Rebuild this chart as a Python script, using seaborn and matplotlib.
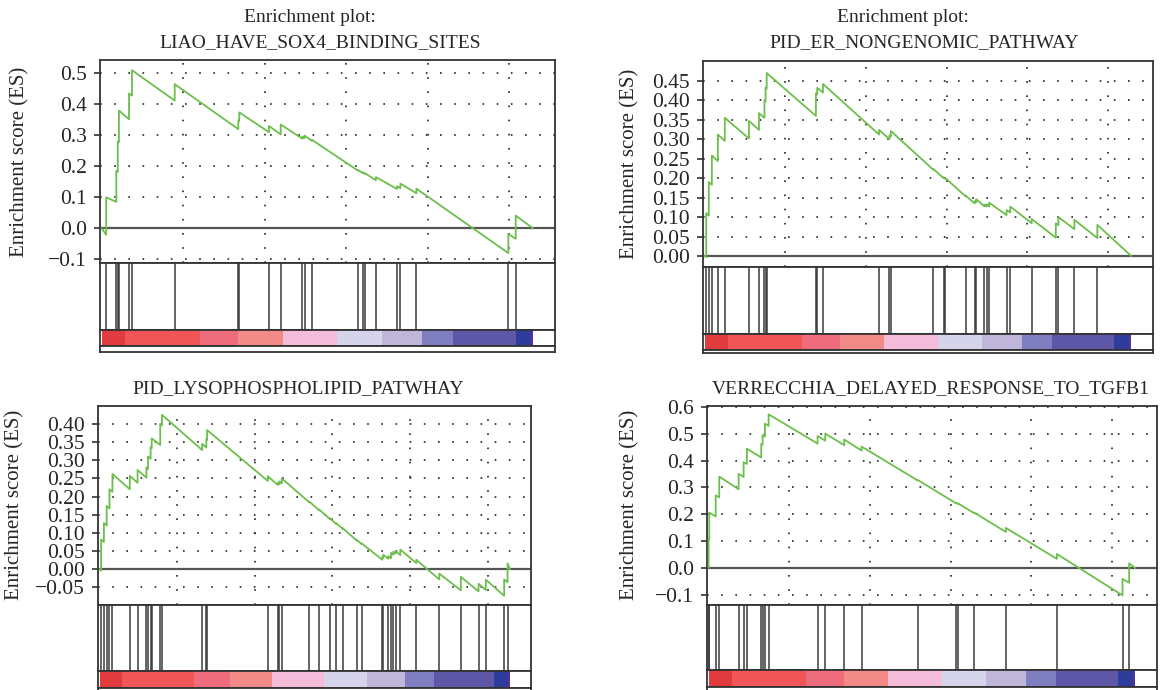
import matplotlib
matplotlib.use('Agg')
import matplotlib.pyplot as plt
from matplotlib.colors import ListedColormap
import numpy as np
import pandas as pd
import seaborn as sns

W, H = 1162, 690

# ranked gene list shared by all four panels
n_genes = 26450
x_lim = (-100, 27800)
x_grid = [5000, 10000, 15000, 20000, 25000]

# heat bar under the hits (fraction of the ranked list)
band_edges = [0, 0.054, 0.229, 0.317, 0.420, 0.546, 0.651, 0.743, 0.814, 0.960, 0.995, 1.0]
band_colors = ['#e23b3e', '#f05658', '#ee6c7c', '#f28a88', '#f4bcd8', '#d6d4ea',
               '#c0b6da', '#7e7ec0', '#5e56a6', '#2e3c9c', '#55309e']

# panel 1
p1_title = ['Enrichment plot:', 'LIAO_HAVE_SOX4_BINDING_SITES']
p1_rank = [280, 900, 990, 1060, 1680, 1860, 4480, 8380, 8440, 10260, 10980, 12310,
           12440, 12880, 15720, 16010, 16170, 16820, 18110, 18320, 19300, 24940, 25390]
p1_before = [-0.021, 0.085, 0.182, 0.278, 0.352, 0.428, 0.412, 0.320, 0.346, 0.310, 0.303,
             0.289, 0.291, 0.283, 0.186, 0.178, 0.175, 0.155, 0.127, 0.129, 0.113, -0.080, -0.034]
p1_after = [0.100, 0.185, 0.280, 0.380, 0.435, 0.510, 0.465, 0.348, 0.374, 0.330, 0.335,
            0.296, 0.299, 0.286, 0.188, 0.181, 0.177, 0.165, 0.136, 0.144, 0.128, -0.018, 0.041]
p1_yticks = [-0.1, 0.0, 0.1, 0.2, 0.3, 0.4, 0.5]
p1_ylim = (-0.112, 0.543)

# panel 2
p2_title = ['Enrichment plot:', 'PID_ER_NONGENOMIC_PATHWAY']
p2_rank = [100, 260, 450, 820, 1250, 2750, 3370, 3710, 3780, 3850, 6900, 6980, 7340,
           10815, 11460, 11550, 14170, 14815, 14930, 16190, 16745, 16835, 17340, 17480,
           17640, 18720, 18950, 20280, 21775, 21935, 22925, 24350]
p2_before = [-0.003, 0.104, 0.183, 0.244, 0.296, 0.302, 0.324, 0.355, 0.397, 0.430, 0.360,
             0.415, 0.420, 0.312, 0.300, 0.307, 0.222, 0.200, 0.198, 0.153, 0.135, 0.138,
             0.128, 0.127, 0.127, 0.105, 0.112, 0.084, 0.047, 0.079, 0.069, 0.046]
p2_after = [0.110, 0.190, 0.258, 0.312, 0.355, 0.347, 0.367, 0.400, 0.433, 0.470, 0.418,
            0.432, 0.442, 0.324, 0.310, 0.321, 0.224, 0.202, 0.200, 0.155, 0.141, 0.146,
            0.132, 0.133, 0.137, 0.118, 0.127, 0.095, 0.084, 0.100, 0.093, 0.080]
p2_yticks = [0.00, 0.05, 0.10, 0.15, 0.20, 0.25, 0.30, 0.35, 0.40, 0.45]
p2_ylim = (-0.027, 0.501)

# panel 3
p3_title = ['PID_LYSOPHOSPHOLIPID_PATWHAY']
p3_rank = [100, 280, 460, 640, 830, 1950, 2450, 3020, 3120, 3290, 3360, 3910, 4020, 6610,
           6880, 6930, 10840, 11480, 11590, 11740, 13520, 14160, 14850, 15240, 15670,
           16570, 16890, 18220, 18280, 18600, 18780, 18930, 19080, 19380, 20410, 21890,
           23280, 24420, 24890, 26070, 26290]
p3_before = [-0.004, 0.075, 0.120, 0.167, 0.213, 0.220, 0.238, 0.252, 0.276, 0.304, 0.333,
             0.342, 0.396, 0.328, 0.335, 0.356, 0.243, 0.232, 0.234, 0.236, 0.184, 0.162,
             0.138, 0.125, 0.111, 0.079, 0.069, 0.026, 0.032, 0.029, 0.030, 0.040, 0.043,
             0.039, 0.017, -0.028, -0.058, -0.061, -0.057, -0.073, -0.036]
p3_after = [0.082, 0.127, 0.174, 0.220, 0.262, 0.257, 0.273, 0.280, 0.310, 0.336, 0.360,
            0.400, 0.425, 0.345, 0.358, 0.383, 0.256, 0.238, 0.242, 0.250, 0.186, 0.164,
            0.140, 0.127, 0.113, 0.081, 0.071, 0.034, 0.040, 0.036, 0.045, 0.048, 0.050,
            0.054, 0.026, -0.012, -0.021, -0.040, -0.029, -0.028, 0.016]
p3_yticks = [-0.05, 0.00, 0.05, 0.10, 0.15, 0.20, 0.25, 0.30, 0.35, 0.40]
p3_ylim = (-0.097, 0.450)

# panel 4
p4_title = ['VERRECCHIA_DELAYED_RESPONSE_TO_TGFB1']
p4_rank = [0, 40, 440, 660, 1860, 2170, 2376, 3264, 3347, 3492, 3719, 6756, 7231, 8409,
           9483, 12955, 15331, 15475, 16467, 18430, 21591, 25661, 26074]
p4_before = [0.000, 0.108, 0.192, 0.263, 0.293, 0.339, 0.387, 0.411, 0.459, 0.489, 0.529,
             0.463, 0.474, 0.457, 0.437, 0.326, 0.241, 0.238, 0.204, 0.134, 0.034, -0.102, -0.055]
p4_after = [0.110, 0.206, 0.270, 0.340, 0.350, 0.394, 0.444, 0.462, 0.494, 0.537, 0.572,
            0.491, 0.500, 0.478, 0.452, 0.328, 0.243, 0.240, 0.206, 0.149, 0.052, -0.041, 0.017]
p4_yticks = [-0.1, 0.0, 0.1, 0.2, 0.3, 0.4, 0.5, 0.6]
p4_ylim = (-0.136, 0.604)

sns.set_theme(style='white')
plt.rcParams['font.family'] = ['Liberation Serif', 'DejaVu Serif']
plt.rcParams['axes.unicode_minus'] = True

GREEN = '#6cbf4c'
FRAME = '#333333'

fig = plt.figure(figsize=(W / 100, H / 100), dpi=100)


def px_axes(left, right, top, bottom):
    return fig.add_axes([left / W, 1 - bottom / H, (right - left) / W, (bottom - top) / H])


def style_frame(ax):
    for s in ax.spines.values():
        s.set_visible(True)
        s.set_color(FRAME)
        s.set_linewidth(1.3)


def draw_panel(box, title, title_pos, ylabel_x, rank, before, after, yticks, ylim, decimals):
    left, right, es_top, es_bot, hit_bot, bar_bot, strip_bot = box

    # running enrichment score
    ax = px_axes(left, right, es_top, es_bot)
    xs, ys = [0], [0.0]
    for r, b, a in zip(rank, before, after):
        xs += [r, r]
        ys += [b, a]
    xs.append(n_genes)
    ys.append(0.0)
    df = pd.DataFrame({'rank': xs, 'es': ys})
    ax.axhline(0, color='#555555', lw=1.6, zorder=1)
    sns.lineplot(data=df, x='rank', y='es', sort=False, estimator=None,
                 color=GREEN, lw=1.3, ax=ax, zorder=3)
    ax.set_xlim(x_lim)
    ax.set_ylim(ylim)
    ax.set_xticks(x_grid)
    ax.set_yticks(yticks)
    ax.set_yticklabels([f'{v:.{decimals}f}'.replace('-', '\u2212') for v in yticks])
    ax.grid(True, linestyle=(0, (1, 7.5)), color='#222222', lw=1.2)
    ax.tick_params(axis='x', length=0, labelbottom=False)
    ax.tick_params(axis='y', length=4, width=1.2, color=FRAME, pad=5.5,
                   labelsize=15.5, left=True)
    ax.set_xlabel('')
    ax.set_ylabel('')
    style_frame(ax)
    fig.text(ylabel_x / W, 1 - (es_top + es_bot) / 2 / H, 'Enrichment score (ES)',
             rotation=90, ha='center', va='center', fontsize=15)

    # hit positions
    axh = px_axes(left, right, es_bot, hit_bot)
    axh.vlines(rank, 0, 1, color='#3a3a3a', lw=1.1)
    axh.set_xlim(x_lim)
    axh.set_ylim(0, 1)
    axh.set_xticks([])
    axh.set_yticks([])
    style_frame(axh)

    # ranked list heat bar
    axb = px_axes(left, right, hit_bot, bar_bot)
    edges = np.array(band_edges) * n_genes
    axb.pcolormesh(edges, [0, 1], np.arange(len(band_colors)).reshape(1, -1),
                   cmap=ListedColormap(band_colors), shading='flat')
    axb.set_xlim(x_lim)
    axb.set_ylim(0, 1)
    axb.set_xticks([])
    axb.set_yticks([])
    style_frame(axb)

    # top of the (cut) ranked metric strip
    if strip_bot > bar_bot + 1:
        axs = px_axes(left, right, bar_bot, strip_bot)
        axs.set_xticks([])
        axs.set_yticks([])
        style_frame(axs)

    for text, (tx, ty) in zip(title, title_pos):
        fig.text(tx / W, 1 - ty / H, text, ha='center', va='center', fontsize=14)


draw_panel((100, 555, 60, 263, 330, 346, 352), p1_title, [(310, 17), (320, 43)], 20,
           p1_rank, p1_before, p1_after, p1_yticks, p1_ylim, 1)
draw_panel((703, 1153, 61, 266.5, 333.5, 350, 353), p2_title, [(903, 17), (924, 43)], 630,
           p2_rank, p2_before, p2_after, p2_yticks, p2_ylim, 2)
draw_panel((98, 531, 405.7, 604.5, 671, 687.5, 692), p3_title, [(298, 389)], 15,
           p3_rank, p3_before, p3_after, p3_yticks, p3_ylim, 2)
draw_panel((707, 1157, 405.7, 604.5, 670, 687, 692), p4_title, [(931, 389)], 630,
           p4_rank, p4_before, p4_after, p4_yticks, p4_ylim, 1)

fig.savefig('out.png', dpi=100)
